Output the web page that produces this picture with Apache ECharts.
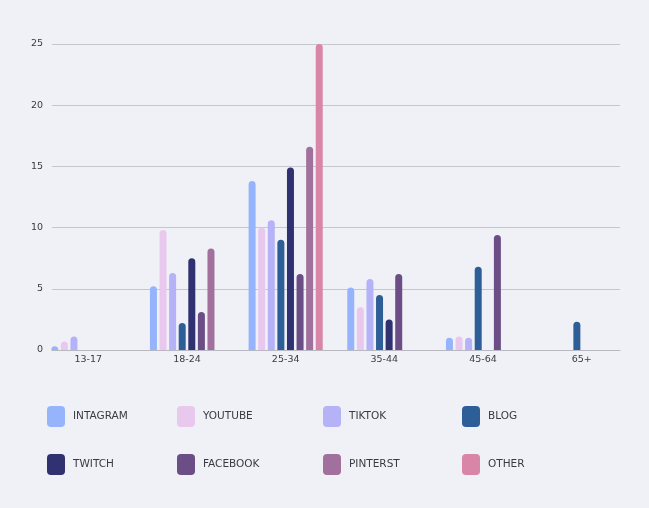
<!DOCTYPE html>
<html>
<head>
<meta charset="utf-8">
<script src="https://cdn.jsdelivr.net/npm/echarts@6/dist/echarts.min.js"></script>
<style>
html,body{margin:0;padding:0;background:#f0f1f7;}
#c{width:649px;height:508px;}
</style>
</head>
<body>
<div id="c"></div>
<script>
const categories = ['13-17', '18-24', '25-34', '35-44', '45-64', '65+'];
const seriesNames = ['INTAGRAM', 'YOUTUBE', 'TIKTOK', 'BLOG', 'TWITCH', 'FACEBOOK', 'PINTERST', 'OTHER'];
const instagram = [0.3, 5.2, 13.8, 5.1, 1.0, 0];
const youtube   = [0.7, 9.8, 10.0, 3.5, 1.1, 0];
const tiktok    = [1.1, 6.3, 10.6, 5.8, 1.0, 0];
const blog      = [0, 2.2, 9.0, 4.5, 6.8, 2.3];
const twitch    = [0, 7.5, 14.9, 2.5, 0, 0];
const facebook  = [0, 3.1, 6.2, 6.2, 9.4, 0];
const pinterest = [0, 8.3, 16.6, 0, 0, 0];
const other     = [0, 0, 25, 0, 0, 0];
const yTicks = [0, 5, 10, 15, 20, 25];

const colors = ['#95b4fb', '#e9c8ee', '#b6b2f7', '#2d5e98', '#2f3171', '#6b4e86', '#a1709c', '#d985a7'];
const values = [instagram, youtube, tiktok, blog, twitch, facebook, pinterest, other];

const chart = echarts.init(document.getElementById('c'));
const font = 'DejaVu Sans';
const iconPath = 'path://M4,0 H14 A4,4 0 0 1 18,4 V17 A4,4 0 0 1 14,21 H4 A4,4 0 0 1 0,17 V4 A4,4 0 0 1 4,0 Z';

const legendCols = [47, 177, 323, 462];
const legends = legendCols.map((x, i) => ({
  data: [seriesNames[i], seriesNames[i + 4]],
  orient: 'vertical',
  left: x,
  top: 406,
  padding: 0,
  itemWidth: 18,
  itemHeight: 21,
  itemGap: 27,
  icon: iconPath,
  selectedMode: false,
  textStyle: { fontFamily: font, fontSize: 10.5, color: '#3a3a44', padding: [0, 0, 0, 3] }
}));

const option = {
  backgroundColor: '#f0f1f7',
  animation: false,
  color: colors,
  legend: legends,
  grid: [
    { left: 39, right: 18, top: 44, bottom: 158 },
    { left: 52, right: 29, top: 44, bottom: 158 }
  ],
  xAxis: [
    {
      type: 'category', data: categories, gridIndex: 0,
      axisLine: { show: false }, axisTick: { show: false },
      axisLabel: { fontFamily: font, fontSize: 9.5, color: '#3a3a44', margin: 5 }
    },
    {
      type: 'value', gridIndex: 1, min: 0, max: 1,
      axisLine: { show: true, onZero: false, lineStyle: { color: '#b8b8c2', width: 1.2 } },
      axisTick: { show: false }, axisLabel: { show: false }, splitLine: { show: false }
    }
  ],
  yAxis: [
    {
      type: 'value', gridIndex: 0, min: 0, max: 25, interval: 5,
      axisLine: { show: false }, axisTick: { show: false },
      axisLabel: { show: false }, splitLine: { show: false }
    },
    {
      type: 'value', gridIndex: 1, min: yTicks[0], max: yTicks[yTicks.length - 1], interval: 5,
      axisLine: { show: false }, axisTick: { show: false },
      axisLabel: { fontFamily: font, fontSize: 9.5, color: '#3a3a44', margin: 9 },
      splitLine: { lineStyle: { color: '#c6c6d0', width: 1 } }
    }
  ],
  series: seriesNames.map((n, i) => ({
    name: n,
    type: 'bar',
    xAxisIndex: 0,
    yAxisIndex: 0,
    data: values[i],
    barWidth: 7,
    barGap: '37%',
    itemStyle: { color: colors[i], borderRadius: [3.5, 3.5, 0, 0] }
  }))
};
chart.setOption(option);
</script>
</body>
</html>
